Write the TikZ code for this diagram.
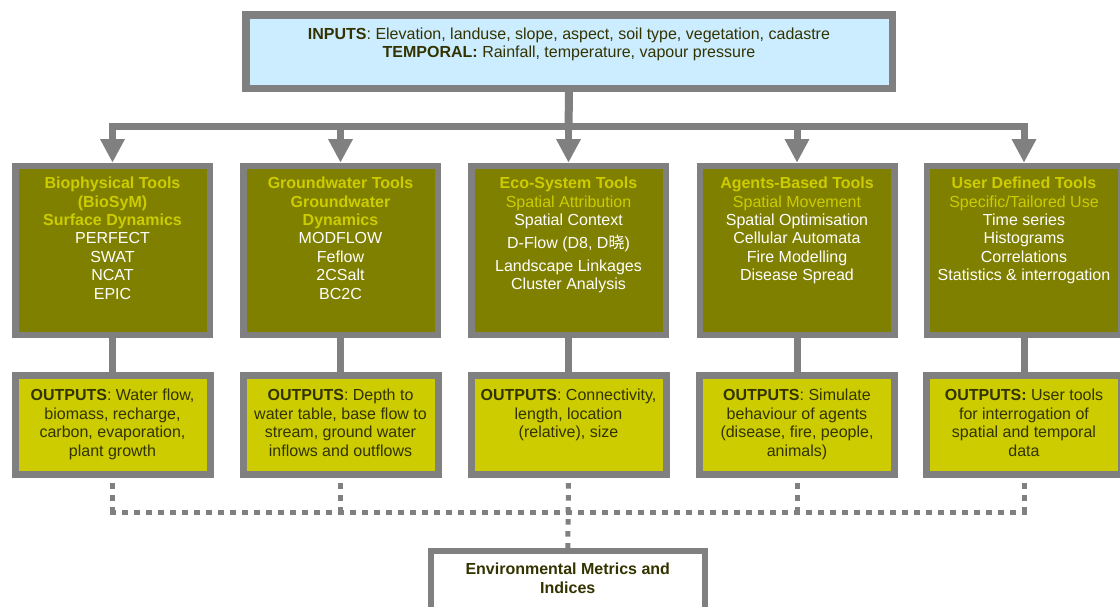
\documentclass[tikz,border=0pt]{standalone}
\usepackage{fontspec}
\setmainfont{Liberation Sans}
\newfontfamily\cjk{Noto Sans CJK SC}
\usetikzlibrary{arrows.meta}
\definecolor{gr}{HTML}{808080}
\definecolor{olv}{HTML}{808000}
\definecolor{ylw}{HTML}{CCCC00}
\definecolor{skyb}{HTML}{CCECFF}
\definecolor{dk}{HTML}{333300}
\newcommand\ttl[1]{\textcolor{ylw}{\textbf{#1}}}
\newcommand\subt[1]{\textcolor{ylw}{#1}}
\begin{document}
\begin{tikzpicture}[x=1pt,y=-1pt,
 topbox/.style={draw=gr, fill=skyb, line width=7.5pt, minimum width=646.5pt, minimum height=73.5pt, inner sep=0pt},
 toolbox/.style={draw=gr, fill=olv, line width=6.5pt, minimum width=194.5pt, minimum height=168.8pt, inner sep=0pt},
 outbox/.style={draw=gr, fill=ylw, line width=7pt, minimum width=195pt, minimum height=98.7pt, inner sep=0pt},
 envbox/.style={draw=gr, fill=white, line width=6pt, minimum width=273.5pt, minimum height=72pt, inner sep=0pt},
 toptxt/.style={anchor=north, align=center, inner sep=0pt, text=dk, font=\fontsize{16}{18.4}\selectfont},
 tooltxt/.style={anchor=north, align=center, inner sep=0pt, text=white, font=\fontsize{16}{18.4}\selectfont},
 outtxt/.style={anchor=north, align=center, inner sep=0pt, text=dk, font=\fontsize{16}{18.8}\selectfont},
 envtxt/.style={anchor=north, align=center, inner sep=0pt, text=dk, font=\fontsize{16}{19.4}\selectfont\bfseries},
 arr/.style={draw=gr, line width=7pt, line join=miter, -{Triangle[width=23pt,length=23.5pt]}},
 link/.style={draw=gr, line width=7pt},
 dotl/.style={draw=gr, line width=5pt, dash pattern=on 5.5pt off 6.5pt}]
\useasboundingbox (0,0) rectangle (1120,606);
\fill[white] (0,0) rectangle (1120,606);

% top box
\node[topbox] (top) at (569,51.5) {};
\node[toptxt] (toptext) at (569,27.7) {\textbf{INPUTS}: Elevation, landuse, slope, aspect, soil type, vegetation, cadastre\\ \textbf{TEMPORAL:} Rainfall, temperature, vapour pressure};

% tool boxes
\node[toolbox] (b1) at (112.5,250.35) {};
\node[toolbox] (b2) at (340.5,250.35) {};
\node[toolbox] (b3) at (568.5,250.35) {};
\node[toolbox] (b4) at (797,250.35) {};
\node[toolbox] (b5) at (1024,250.35) {};

\node[tooltxt] (b1t) at (112.5,176.9) {\ttl{Biophysical Tools}\\ \ttl{(BioSyM)}\\ \ttl{Surface Dynamics}\\ PERFECT\\ SWAT\\ NCAT\\ EPIC};
\node[tooltxt] (b2t) at (340.5,176.9) {\ttl{Groundwater Tools}\\ \ttl{Groundwater}\\ \ttl{Dynamics}\\ MODFLOW\\ Feflow\\ 2CSalt\\ BC2C};
\node[tooltxt] (b3t) at (568.5,176.9) {\ttl{Eco-System Tools}\\ \subt{Spatial Attribution}\\ Spatial Context\\[4.5pt] D-Flow (D8, D{\cjk 晓})\\[4.5pt] Landscape Linkages\\ Cluster Analysis};
\node[tooltxt] (b4t) at (797,176.9) {\ttl{Agents-Based Tools}\\ \subt{Spatial Movement}\\ Spatial Optimisation\\ Cellular Automata\\ Fire Modelling\\ Disease Spread};
\node[tooltxt] (b5t) at (1024,176.9) {\ttl{User Defined Tools}\\ \subt{Specific/Tailored Use}\\ Time series\\ Histograms\\ Correlations\\ Statistics \& interrogation};

% output boxes
\node[outbox] (o1) at (112.5,424.85) {};
\node[outbox] (o2) at (340.5,424.85) {};
\node[outbox] (o3) at (568.5,424.85) {};
\node[outbox] (o4) at (797,424.85) {};
\node[outbox] (o5) at (1024,424.85) {};

\node[outtxt] (o1t) at (112.5,388.5) {\textbf{OUTPUTS}: Water flow,\\ biomass, recharge,\\ carbon, evaporation,\\ plant growth};
\node[outtxt] (o2t) at (340.5,388.5) {\textbf{OUTPUTS}: Depth to\\ water table, base flow to\\ stream, ground water\\ inflows and outflows};
\node[outtxt] (o3t) at (568.5,388.5) {\textbf{OUTPUTS}: Connectivity,\\ length, location\\ (relative), size};
\node[outtxt] (o4t) at (797,388.5) {\textbf{OUTPUTS}: Simulate\\ behaviour of agents\\ (disease, fire, people,\\ animals)};
\node[outtxt] (o5t) at (1024,388.5) {\textbf{OUTPUTS:} User tools\\ for interrogation of\\ spatial and temporal\\ data};

% environmental box
\node[envbox] (env) at (567.75,587) {};
\node[envtxt] (envt) at (567.75,562.5) {Environmental Metrics and\\ Indices};

% arrow tree
\coordinate (bar) at (568.5,126.5);
\draw[draw=gr, line width=8pt] (top.south) -- ([yshift=-3.5pt]bar);
\draw[arr] (bar) -| (b1.north);
\draw[arr] (bar) -| (b2.north);
\draw[arr] (bar) -- (b3.north);
\draw[arr] (bar) -| (b4.north);
\draw[arr] (bar) -| (b5.north);

% tool to output links
\draw[link] (b1.south) -- (o1.north);
\draw[link] (b2.south) -- (o2.north);
\draw[link] (b3.south) -- (o3.north);
\draw[link] (b4.south) -- (o4.north);
\draw[link] (b5.south) -- (o5.north);

% dotted gathering lines
\coordinate (hub) at (568.5,512);
\coordinate (hl) at (110,512);
\coordinate (hr) at (1026.5,512);
\draw[dotl] (hl) -- (hr);
\draw[dotl, dash phase=6.5pt] (o1.south) -- (o1.south |- hub);
\draw[dotl, dash phase=6.5pt] (o2.south) -- (o2.south |- hub);
\draw[dotl, dash phase=6.5pt] (o3.south) -- (env.north);
\draw[dotl, dash phase=6.5pt] (o4.south) -- (o4.south |- hub);
\draw[dotl, dash phase=6.5pt] (o5.south) -- (o5.south |- hub);
\end{tikzpicture}
\end{document}
